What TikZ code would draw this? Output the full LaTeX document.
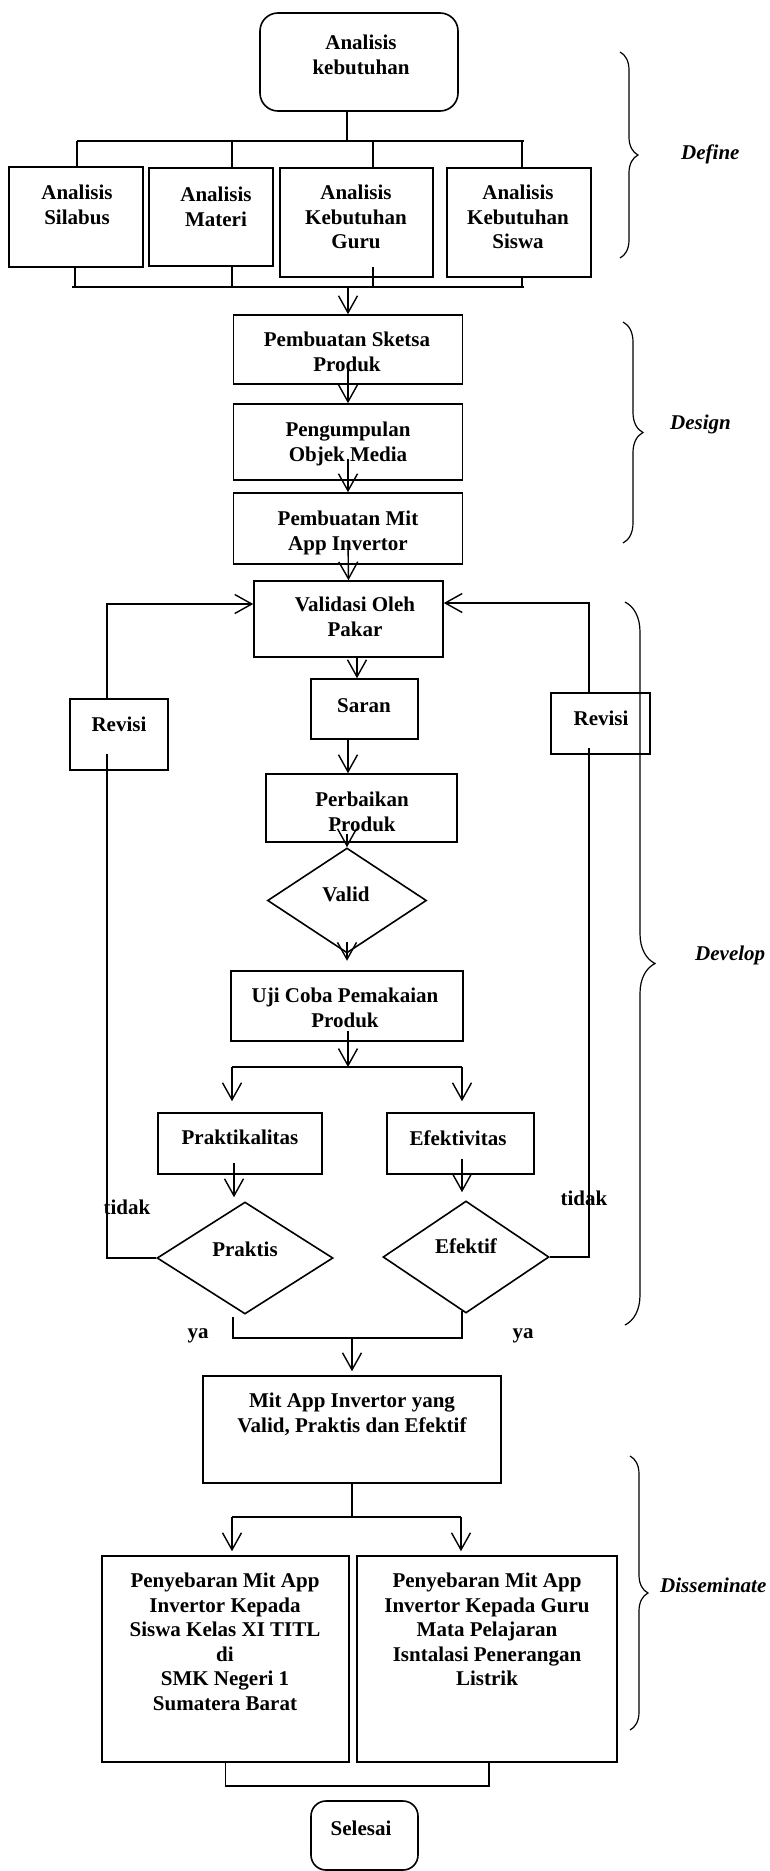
\documentclass[tikz,border=0pt]{standalone}
\usepackage{fontspec}
\setmainfont{Liberation Serif}
\usetikzlibrary{arrows.meta,shapes.geometric,decorations.pathreplacing,calc}
\begin{document}
\begin{tikzpicture}[x=1pt,y=-1pt,
  ln/.style={line width=1.4pt},
  arr/.style={line width=1.4pt,-{Straight Barb[length=17pt,width=19pt]}},
  bx/.style args={#1x#2}{draw,line width=1.6pt,inner sep=0pt,minimum width=#1pt,minimum height=#2pt},
  dm/.style args={#1x#2}{draw,diamond,line width=1.6pt,inner sep=0pt,minimum width=#1pt,minimum height=#2pt},
  tx/.style={font=\bfseries\fontsize{21}{24.5}\selectfont,align=center,inner sep=0pt,anchor=north},
  lb/.style={font=\bfseries\itshape\fontsize{21}{24.5}\selectfont,inner sep=0pt,anchor=north west},
  brc/.style={decorate,decoration={brace,amplitude=#1pt},line width=1.2pt}]
\fill[white] (0,0) rectangle (769,1871);
\useasboundingbox (0,0) rectangle (769,1871);
% Define
\node[bx=198x98,rounded corners=18pt] (ak) at (359,62) {};
\node[tx] (akt) at (361,35) {Analisis\\kebutuhan};
\node[bx=134x100] (sil) at (76,217) {};
\node[tx] (silt) at (77,185) {Analisis\\Silabus};
\node[bx=124x98] (mat) at (211,217) {};
\node[tx] (matt) at (216,187) {Analisis\\Materi};
\node[bx=153x109] (gur) at (356.5,222.5) {};
\node[tx] (gurt) at (356,185) {Analisis\\Kebutuhan\\Guru};
\node[bx=144x109] (sis) at (519,222.5) {};
\node[tx] (sist) at (518,185) {Analisis\\Kebutuhan\\Siswa};
\coordinate (b1L) at (77,141); \coordinate (b1R) at (524,141);
\draw[ln] ([xshift=-12pt]ak.south) -- ([xshift=-12pt]ak.south |- b1L);
\draw[ln] (b1L) -- (b1R);
\draw[ln] (b1L) -- ([xshift=1pt]sil.north);
\draw[ln] ([xshift=21pt]mat.north) -- ([xshift=21pt]mat.north |- b1L);
\draw[ln] ([xshift=16.5pt]gur.north) -- ([xshift=16.5pt]gur.north |- b1L);
\draw[ln] ([xshift=3pt]sis.north) -- ([xshift=3pt]sis.north |- b1L);
\coordinate (b2L) at (72,287); \coordinate (b2R) at (524,287);
\draw[ln] (b2L) -- (b2R);
\draw[ln] ([xshift=-1pt]sil.south) -- ([xshift=-1pt]sil.south |- b2L);
\draw[ln] ([xshift=21pt]mat.south) -- ([xshift=21pt]mat.south |- b2L);
\draw[ln] ([xshift=16.5pt,yshift=11pt]gur.south) -- ([xshift=16.5pt]gur.south |- b2L);
\draw[ln] ([xshift=3pt]sis.south) -- ([xshift=3pt]sis.south |- b2L);
% Design
\node[bx=229x69] (sk) at (348,349.5) {};
\node[tx] (skt) at (347,332) {Pembuatan Sketsa\\Produk};
\draw[arr] (sk.north |- b2L) -- (sk.north);
\node[bx=229x76] (pg) at (348,442) {};
\node[tx] (pgt) at (348,422) {Pengumpulan\\Objek Media};
\draw[arr] ([yshift=22pt]sk.south) -- (pg.north);
\node[bx=229x71] (pm) at (348,528.5) {};
\node[tx] (pmt) at (348,511) {Pembuatan Mit\\App Invertor};
\draw[arr] ([yshift=22pt]pg.south) -- (pm.north);
% Develop
\node[bx=189x76] (va) at (348.5,619) {};
\node[tx] (vat) at (355,597) {Validasi Oleh\\Pakar};
\draw[arr] ([yshift=24pt]pm.south) -- (va.north);
\node[bx=107x60] (sa) at (364.5,709) {};
\node[tx] (sat) at (364,698) {Saran};
\draw[arr] ([xshift=8.5pt]va.south) -- ([xshift=8.5pt]va.south |- sa.north);
\node[bx=191x68] (pb) at (361.5,808) {};
\node[tx] (pbt) at (362,792) {Perbaikan\\Produk};
\draw[arr] ([xshift=-16.5pt]sa.south) -- ([xshift=-16.5pt]sa.south |- pb.north);
\node[dm=159x105] (vl) at (347,900.5) {};
\node[tx] (vlt) at (346,887) {Valid};
\draw[arr] ([xshift=-14.5pt,yshift=9pt]pb.south) -- (vl.north);
\draw[arr] ([yshift=12pt]vl.south) -- ([yshift=-7pt]vl.south);
\node[bx=98x71] (rvl) at (119,734.5) {};
\node[tx] (rvlt) at (119,717) {Revisi};
\node[bx=99x61] (rvr) at (600.5,723.5) {};
\node[tx] (rvrt) at (601,711) {Revisi};
\node[bx=232x70] (uj) at (347,1006) {};
\node[tx] (ujt) at (345,988) {Uji Coba Pemakaian\\Produk};
\coordinate (b3L) at (232,1067); \coordinate (b3R) at (462,1067);
\draw[arr] ([xshift=1pt,yshift=11pt]uj.south) -- ([xshift=1pt]uj.south |- b3L);
\draw[ln] (b3L) -- (b3R);
\node[bx=164x61] (pk) at (240,1143.5) {};
\node[tx] (pkt) at (240,1130) {Praktikalitas};
\node[bx=147x61] (ef) at (460.5,1143.5) {};
\node[tx] (eft) at (458,1130) {Efektivitas};
\draw[arr,shorten >=11pt] (b3L) -- (b3L |- pk.north);
\draw[arr,shorten >=11pt] (b3R) -- (b3R |- ef.north);
\node[dm=176x112] (pr) at (245,1258) {};
\node[tx] (prt) at (245,1242) {Praktis};
\node[dm=166x112] (efd) at (466,1257) {};
\node[tx] (efdt) at (466,1238) {Efektif};
\draw[arr,shorten >=4pt] ([xshift=-6pt,yshift=12pt]pk.south) -- ([xshift=-6pt]pk.south |- pr.north);
\draw[arr,shorten >=8pt] ([xshift=1.5pt,yshift=16pt]ef.south) -- ([xshift=1.5pt]ef.south |- efd.north);
\draw[ln] (pr.west) -| ([xshift=-12pt,yshift=17pt]rvl.south);
\draw[arr] ([xshift=-12pt]rvl.north) |- ([yshift=15pt]va.west);
\draw[ln] (efd.east) -| ([xshift=-11.5pt,yshift=7pt]rvr.south);
\draw[arr] ([xshift=-11.5pt]rvr.north) |- ([yshift=16pt]va.east);
\node[tx] (td1) at (127,1200) {tidak};
\node[tx] (td2) at (584,1191) {tidak};
\node[tx] (ya1) at (198,1328) {ya};
\node[tx] (ya2) at (523,1328) {ya};
\coordinate (mg) at (352,1337);
\draw[ln] ([xshift=-12pt,yshift=-2pt]pr.south) |- ([xshift=-4pt,yshift=-24pt]efd.south) -- ([xshift=-4pt,yshift=3pt]efd.south);
\node[bx=298x107] (mit) at (352,1429.5) {};
\node[tx] (mitt) at (352,1393) {Mit App Invertor yang\\Valid, Praktis dan Efektif};
\draw[arr,shorten >=4pt] (mit.north |- mg) -- (mit.north);
% Disseminate
\coordinate (b4L) at (232,1517); \coordinate (b4R) at (461,1517);
\draw[ln] (mit.south) -- (mit.south |- b4L);
\draw[ln] (b4L) -- (b4R);
\node[bx=247x206] (pl) at (225.5,1659) {};
\node[tx] (plt) at (225,1573) {Penyebaran Mit App\\Invertor Kepada\\Siswa Kelas XI TITL\\di\\SMK Negeri 1\\Sumatera Barat};
\node[bx=260x206] (prr) at (487,1659) {};
\node[tx] (prrt) at (487,1573) {Penyebaran Mit App\\Invertor Kepada Guru\\Mata Pelajaran\\Isntalasi Penerangan\\Listrik};
\draw[arr,shorten >=4pt] (b4L) -- (b4L |- pl.north);
\draw[arr,shorten >=4pt] (b4R) -- (b4R |- prr.north);
\draw[ln] (pl.south) -- ++(0,23) -| ([xshift=2pt]prr.south);
\node[bx=107x69,rounded corners=15pt] (sel) at (364.5,1835.5) {};
\node[tx] (selt) at (361,1821) {Selesai};
% braces and phase labels
\draw[brc=18] (620,52) -- (620,258);
\node[lb] (ldef) at (681,145) {Define};
\draw[brc=20] (623,322) -- (623,543);
\node[lb] (ldes) at (670,415) {Design};
\draw[brc=30] (625,602) -- (625,1325);
\node[lb] (ldev) at (695,946) {Develop};
\draw[brc=18] (630,1456) -- (630,1730);
\node[lb] (ldis) at (660,1578) {Disseminate};
\end{tikzpicture}
\end{document}
